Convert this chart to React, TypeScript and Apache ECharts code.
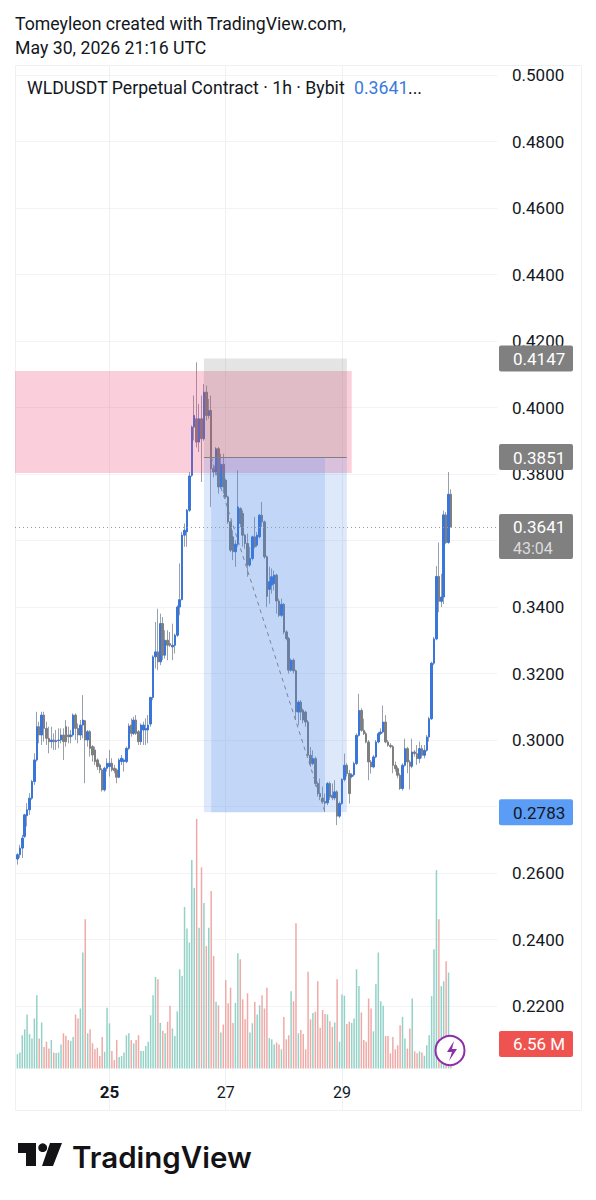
import React, { useEffect, useRef } from "react";
import * as echarts from "echarts";

const opens = [
.2642,.2655,.2675,.2710,.2772,.2790,.2825,.2875,.2940,.3040,
.3015,.3075,.3035,.3005,.2995,.3000,.2995,.2998,.3000,.3015,
.3040,.3015,.3010,.3015,.3075,.3035,.3015,.3045,.3058,.3000,
.3025,.2980,.2970,.2940,.2925,.2910,.2850,.2915,.2920,.2930,
.2915,.2910,.2888,.2935,.2935,.2935,.2975,.3045,.3020,.3060,
.3025,.2995,.3030,.3030,.3030,.3048,.3128,.3250,.3265,.3235,
.3350,.3255,.3300,.3290,.3280,.3285,.3315,.3400,.3422,.3616,
.3626,.3691,.3796,.3941,.3966,.3896,.3966,.3906,.4046,.3976,
.3991,.3816,.3806,.3876,.3761,.3829,.3781,.3731,.3656,.3611,
.3566,.3589,.3696,.3681,.3616,.3591,.3526,.3546,.3611,.3586,
.3611,.3676,.3656,.3551,.3453,.3466,.3470,.3496,.3418,.3375,
.3408,.3325,.3305,.3210,.3240,.3208,.3084,.3114,.3090,.3084,
.3054,.2954,.2929,.2944,.2869,.2839,.2825,.2815,.2811,.2869,
.2834,.2826,.2844,.2771,.2809,.2881,.2924,.2899,.2890,.2895,
.2929,.3014,.3089,.3029,.3019,.2994,.2934,.2919,.2949,.2994,
.3019,.3024,.3054,.2994,.2984,.2980,.2924,.2914,.2894,.2854,
.2924,.2974,.2934,.2921,.2964,.2959,.2944,.2974,.2954,.2969,
.3009,.3064,.3231,.3304,.3492,.3417,.3430,.3677,.3594,.3739];
const closes = [
.2655,.2675,.2705,.2775,.2790,.2825,.2875,.2940,.3040,.3015,
.3075,.3035,.3005,.2995,.3000,.2995,.2998,.3000,.3015,.2995,
.2995,.3010,.3015,.3075,.3035,.3015,.3045,.3060,.3000,.3025,
.2975,.2955,.2935,.2920,.2910,.2850,.2915,.2930,.2930,.2910,
.2908,.2888,.2940,.2945,.2940,.2975,.3042,.3020,.3060,.3020,
.2995,.3045,.3045,.3035,.3045,.3128,.3250,.3265,.3235,.3350,
.3255,.3300,.3285,.3285,.3285,.3315,.3400,.3422,.3616,.3631,
.3691,.3794,.3941,.3976,.3896,.3966,.3906,.4046,.3976,.3991,
.3816,.3806,.3876,.3761,.3829,.3761,.3731,.3656,.3571,.3566,
.3589,.3701,.3651,.3616,.3591,.3526,.3546,.3611,.3581,.3616,
.3676,.3656,.3551,.3432,.3476,.3491,.3496,.3418,.3375,.3408,
.3325,.3305,.3210,.3240,.3208,.3085,.3114,.3084,.3060,.3054,
.2954,.2929,.2944,.2869,.2839,.2829,.2815,.2810,.2869,.2829,
.2826,.2844,.2771,.2809,.2881,.2924,.2899,.2839,.2895,.2929,
.3014,.3089,.3029,.3019,.2994,.2934,.2919,.2949,.2994,.3019,
.3024,.3054,.2994,.2984,.2980,.2924,.2914,.2894,.2854,.2924,
.2974,.2934,.2921,.2964,.2959,.2944,.2974,.2954,.2969,.3009,
.3064,.3231,.3304,.3492,.3417,.3430,.3677,.3594,.3739,.3641];
const highs = [
.2660,.2685,.2715,.2778,.2810,.2840,.2880,.2960,.3085,.3055,
.3085,.3085,.3055,.3040,.3040,.3020,.3030,.3035,.3035,.3035,
.3060,.3040,.3030,.3080,.3080,.3050,.3060,.3135,.3060,.3030,
.3030,.2985,.2980,.2945,.2930,.2915,.2920,.2945,.2970,.2945,
.2925,.2915,.2945,.2955,.2945,.2980,.3050,.3065,.3070,.3075,
.3030,.3050,.3055,.3065,.3075,.3130,.3255,.3355,.3395,.3380,
.3370,.3330,.3330,.3325,.3350,.3320,.3405,.3531,.3626,.3651,
.3695,.3806,.3946,.4036,.4136,.4011,.4036,.4071,.4066,.4026,
.4036,.3825,.3881,.3881,.3861,.3861,.3786,.3735,.3660,.3631,
.3601,.3811,.3700,.3691,.3620,.3621,.3581,.3615,.3671,.3625,
.3680,.3716,.3660,.3555,.3521,.3516,.3510,.3500,.3425,.3425,
.3412,.3330,.3310,.3245,.3245,.3212,.3119,.3120,.3095,.3088,
.3060,.2979,.2969,.2950,.2875,.2884,.2860,.2839,.2874,.2875,
.2869,.2879,.2849,.2815,.2885,.2959,.2930,.2910,.2900,.2935,
.3020,.3139,.3095,.3064,.3025,.3000,.2940,.2955,.3000,.3025,
.3035,.3104,.3075,.3000,.2990,.2985,.2935,.2920,.2900,.2930,
.3004,.2979,.2940,.3004,.2970,.2985,.2995,.2985,.2985,.3015,
.3070,.3235,.3310,.3523,.3594,.3500,.3690,.3685,.3806,.3754];
const lows = [
.2625,.2645,.2645,.2705,.2740,.2775,.2820,.2865,.2935,.2990,
.2985,.2995,.2985,.2960,.2975,.2970,.2970,.2975,.2990,.2940,
.2980,.2990,.2990,.3010,.3000,.2990,.3000,.3005,.2870,.2980,
.2950,.2935,.2925,.2910,.2900,.2845,.2845,.2905,.2890,.2905,
.2900,.2870,.2885,.2925,.2905,.2930,.2970,.3010,.3015,.3015,
.2985,.2985,.2985,.2985,.2990,.3040,.3120,.3215,.3210,.3225,
.3240,.3245,.3240,.3280,.3240,.3260,.3310,.3375,.3420,.3581,
.3581,.3686,.3791,.3901,.3880,.3866,.3776,.3900,.3961,.3966,
.3701,.3790,.3796,.3741,.3756,.3741,.3726,.3650,.3565,.3541,
.3521,.3581,.3640,.3581,.3575,.3491,.3521,.3540,.3576,.3580,
.3606,.3641,.3545,.3400,.3410,.3440,.3450,.3380,.3370,.3370,
.3318,.3300,.3200,.3205,.3200,.3060,.3044,.3060,.3050,.3040,
.2950,.2919,.2924,.2860,.2830,.2819,.2810,.2784,.2804,.2820,
.2819,.2819,.2744,.2765,.2805,.2875,.2890,.2809,.2885,.2890,
.2925,.3010,.3025,.3015,.2990,.2879,.2899,.2915,.2945,.2990,
.3015,.3020,.2990,.2980,.2975,.2900,.2905,.2885,.2850,.2848,
.2920,.2900,.2851,.2915,.2950,.2925,.2930,.2945,.2945,.2965,
.2995,.3060,.3225,.3300,.3384,.3400,.3409,.3589,.3590,.3639];
const volumes = [
3.6,4.0,8.3,9.8,13.5,8.6,7.5,12.5,18.3,7.5,
11.5,5.4,6.7,5.0,7.1,4.0,3.9,4.0,6.0,8.8,
8.2,7.1,6.9,7.9,13.5,12.5,15.0,29.0,37.3,8.8,
9.8,6.3,4.8,5.2,3.1,7.9,4.2,15.2,11.3,4.4,
2.1,7.1,2.9,3.1,4.0,8.3,8.8,7.1,6.3,7.1,
8.3,4.4,4.4,5.6,6.7,13.3,18.3,22.9,22.3,11.4,
9.4,8.8,11.7,15.7,10.0,8.1,14.3,24.8,23.1,40.4,
35.0,31.5,52.1,45.1,62.4,35.2,50.3,41.4,30.6,35.2,
44.4,28.1,16.7,15.8,9.0,11.0,22.1,16.3,20.2,11.4,
16.4,28.8,27.3,17.3,12.3,18.8,9.0,11.3,16.7,13.5,
15.8,18.3,15.0,20.2,7.6,7.3,6.0,6.5,6.0,4.8,
12.9,7.3,8.3,19.3,16.8,36.3,8.8,9.6,8.6,4.8,
24.2,12.3,13.9,14.2,21.8,10.2,14.6,13.6,13.5,11.8,
10.4,11.5,22.3,6.7,18.5,18.2,11.1,11.7,11.4,12.5,
24.8,20.6,14.0,7.1,6.7,17.5,15.0,9.3,21.1,29.0,
16.8,15.7,8.1,8.1,3.8,7.9,4.8,5.8,10.8,12.9,
7.5,5.0,10.0,17.5,4.3,3.8,4.3,4.0,3.2,5.8,
8.3,18.1,29.8,49.6,37.3,20.6,21.8,26.8,24.0,6.56];

const SLOTS = 200;
const dayTicks: Record<number, string> = { 39: "25", 87: "27", 135: "29" };
const coveredTicks = ["0.2800", "0.3600"];
const priceLabels = [
  { text: "0.4147", price: 0.4147, bg: "#808080", fg: "#ffffff" },
  { text: "0.3851", price: 0.3851, bg: "#808080", fg: "#ffffff" },
  { text: "0.2783", price: 0.2783, bg: "#5b9cf6", fg: "#131722" },
];
const lastPrice = 0.3641;
const countdown = "43:04";
const lastVolumeLabel = "6.56 M";
const stopTop = 0.4147;
const entry = 0.3851;
const target = 0.2783;
const zoneTop = 0.411;
const zoneBottom = 0.3803;

const FONT = "Roboto, sans-serif";
const slots = Array.from({ length: SLOTS }, (_, i) => dayTicks[i] ?? String(i));
const UP = "#3a76d9";
const DOWN = "#7f7f7f";
const WICK = "rgba(118,128,146,0.75)";
const BLANK = ["-", "-", "-", "-"];
const PX = (p: number) => 75 + (0.5 - p) * 3325;

const wickData = [BLANK, ...opens.map((o, i) => [o, closes[i], lows[i], highs[i]])];
const bodyData = [
  BLANK,
  ...opens.map((o, i) => [o, closes[i], Math.min(o, closes[i]), Math.max(o, closes[i])]),
];
const volumeData: any[] = [
  "-",
  ...volumes.map((v, i) => ({
    value: v,
    itemStyle: { color: closes[i] >= opens[i] ? "#93d2c7" : "#efaaa7" },
  })),
];

const BOLT = "M9 0 L2 11 H7 L4 20 L12 8 H7 Z";
const TV_MARK = "M0 0H18V23H8V10H0Z M32 0H44L35 23H24Z";

function text(t: string, x: number, y: number, size: number, fill: string, extra: any = {}) {
  return {
    type: "text",
    z: 100,
    style: {
      text: t, x, y, fill, font: `${extra.weight ?? 400} ${size}px ${extra.family ?? FONT}`,
      textVerticalAlign: "middle", textAlign: extra.align ?? "left",
    },
  };
}
function plate(y: number, h: number, fill: string) {
  return { type: "rect", z: 99, shape: { x: 499, y, width: 74, height: h, r: 2 }, style: { fill } };
}

export default function App() {
  const ref = useRef<HTMLDivElement>(null);
  useEffect(() => {
    if (!ref.current) return;
    echarts.graphic.registerShape("bolt", echarts.graphic.extendPath(BOLT as any, {}));
    echarts.graphic.registerShape("tvmark", echarts.graphic.extendPath(TV_MARK as any, {}));
    const chart = echarts.init(ref.current, undefined, { renderer: "svg" });
    const xBase = {
      type: "category", data: slots, boundaryGap: false,
      axisLine: { show: false }, axisTick: { show: false }, axisLabel: { show: false }, splitLine: { show: false },
    };
    const lineMark = { color: "#808080", width: 1 };
    chart.setOption({
      animation: false,
      backgroundColor: "#ffffff",
      grid: [
        { left: 15, width: 482, top: 75, height: 997.5 },
        { left: 15, width: 482, top: 817.5, height: 251 },
        { left: 15, width: 482, top: 65, height: 1045 },
      ],
      xAxis: [
        { ...xBase, gridIndex: 0 },
        { ...xBase, gridIndex: 1 },
        {
          ...xBase,
          gridIndex: 2,
          splitLine: {
            show: true,
            interval: (i: number) => i in dayTicks,
            lineStyle: { color: "#eff0f2", width: 1 },
          },
          axisLabel: {
            show: true, inside: true, margin: 10, fontFamily: FONT, fontSize: 16, color: "#131722",
            interval: (i: number) => i in dayTicks,
            formatter: (v: string) => (v === "25" ? `{b|${v}}` : v),
            rich: { b: { fontFamily: FONT, fontSize: 17, fontWeight: 700, color: "#131722" } },
          },
        },
      ],
      yAxis: [
        {
          type: "value", gridIndex: 0, position: "right", min: 0.2, max: 0.5, interval: 0.02,
          axisLine: { show: false }, axisTick: { show: false },
          splitLine: { show: true, showMinLine: false, lineStyle: { color: "#f2f3f5", width: 1 } },
          axisLabel: {
            margin: 15, fontFamily: FONT, fontSize: 17, color: "#131722",
            showMinLabel: false,
            formatter: (v: number) => (coveredTicks.includes(v.toFixed(4)) ? "" : v.toFixed(4)),
          },
        },
        { type: "value", gridIndex: 1, min: 0, max: 62.75, show: false },
        { type: "value", gridIndex: 2, min: 0, max: 1, show: false },
      ],
      series: [
        {
          type: "bar", name: "Volume", xAxisIndex: 1, yAxisIndex: 1, data: volumeData,
          barWidth: 1.5, z: 2,
        },
        {
          type: "candlestick", name: "Wicks", xAxisIndex: 0, yAxisIndex: 0, data: wickData, barWidth: 1, z: 3,
          itemStyle: { color: WICK, color0: WICK, borderColor: WICK, borderColor0: WICK, borderWidth: 1 },
        },
        {
          type: "candlestick", name: "Bodies", xAxisIndex: 0, yAxisIndex: 0, data: bodyData, barWidth: 2, z: 4,
          itemStyle: { color: UP, color0: DOWN, borderColor: UP, borderColor0: DOWN, borderWidth: 1 },
        },
        {
          type: "line", name: "Drawings", xAxisIndex: 0, yAxisIndex: 0, data: [], z: 5,
          silent: true,
          markArea: {
            silent: true, z: 5,
            data: [
              [{ xAxis: 0, yAxis: zoneTop, itemStyle: { color: "rgba(238,60,110,0.25)" } }, { xAxis: 139, yAxis: zoneBottom }],
              [{ xAxis: 78, yAxis: stopTop, itemStyle: { color: "rgba(120,120,120,0.2)" } }, { xAxis: 137, yAxis: entry }],
              [{ xAxis: 78, yAxis: entry, itemStyle: { color: "rgba(66,133,235,0.18)" } }, { xAxis: 137, yAxis: target }],
              [{ xAxis: 81, yAxis: entry, itemStyle: { color: "rgba(66,133,235,0.17)" } }, { xAxis: 128, yAxis: target }],
            ],
          },
          markLine: {
            silent: true, symbol: "none", z: 6, label: { show: false },
            data: [
              [{ xAxis: 78, yAxis: entry, lineStyle: { ...lineMark, type: "solid" } }, { xAxis: 137, yAxis: entry }],
              [{ xAxis: 81, yAxis: entry, lineStyle: { color: "#7f8590", width: 1, type: [4, 4] } }, { xAxis: 128, yAxis: target }],
              [{ xAxis: 0, yAxis: lastPrice, lineStyle: { color: "#9a9a9a", width: 1, type: [1, 3] } }, { xAxis: 199, yAxis: lastPrice }],
            ],
          },
        },
      ],
      graphic: [
        { type: "rect", z: 1, shape: { x: 15.5, y: 65.5, width: 566, height: 1045 }, style: { fill: "none", stroke: "#eef0f2", lineWidth: 1 } },
        text("Tomeyleon created with TradingView.com,", 15, 24, 17.7, "#131722"),
        text("May 30, 2026 21:16 UTC", 15, 48, 17.7, "#131722"),
        text("WLDUSDT Perpetual Contract · 1h · Bybit", 27, 88, 17.7, "#131722"),
        text("0.3641", 354, 88, 17.7, "#3a7bdc"),
        text("...", 408, 88, 17.7, "#131722"),
        ...priceLabels.flatMap((l) => [
          plate(PX(l.price) - 13, 26, l.bg),
          text(l.text, 513, PX(l.price) + 0.5, 17, l.fg),
        ]),
        plate(514, 45, "#808080"),
        text(lastPrice.toFixed(4), 513, 527, 17, "#ffffff"),
        text(countdown, 513, 548, 16, "#dcdcdc"),
        plate(1031, 26, "#ef5350"),
        text(lastVolumeLabel, 513, 1044, 17, "#ffffff"),
        { type: "circle", z: 100, shape: { cx: 450, cy: 1050.5, r: 14.5 }, style: { fill: "#ffffff", stroke: "#8e2fa8", lineWidth: 2 } },
        { type: "bolt", z: 101, x: 445, y: 1041, style: { fill: "#8e2fa8" } },
        { type: "tvmark", z: 100, x: 18, y: 1143, style: { fill: "#131316" } },
        { type: "circle", z: 100, shape: { cx: 42.7, cy: 1147.7, r: 4.4 }, style: { fill: "#131316" } },
        text("TradingView", 72, 1157, 29.5, "#131316", { weight: 600, family: "Inter, sans-serif" }),
      ],
    });
    return () => chart.dispose();
  }, []);
  return <div ref={ref} style={{ position: "absolute", left: 0, top: 0, width: 596, height: 1200 }} />;
}
